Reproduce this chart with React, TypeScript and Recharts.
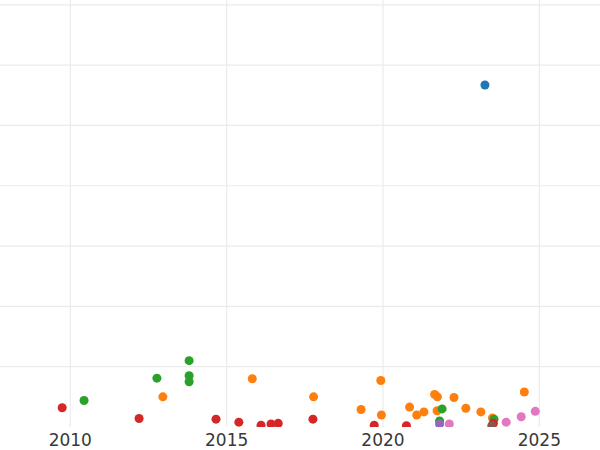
import React from "react";
import { ScatterChart, Scatter, XAxis, YAxis, ZAxis, ReferenceLine } from "recharts";

const xTicks = [2010, 2015, 2020, 2025];
const yTicks = [1, 2, 3, 4, 5, 6, 7];

const blueYears = [2023.26];
const blueValues = [5.67];

const orangeYears = [2012.96, 2015.82, 2017.78, 2019.3, 2019.93, 2019.95, 2020.85, 2021.08, 2021.31, 2021.65, 2021.74, 2021.73, 2022.27, 2022.65, 2023.13, 2023.5, 2024.52];
const orangeValues = [0.5, 0.8, 0.5, 0.29, 0.77, 0.2, 0.33, 0.2, 0.25, 0.54, 0.5, 0.27, 0.49, 0.31, 0.25, 0.15, 0.58];

const greenYears = [2010.44, 2012.77, 2013.8, 2013.8, 2013.8, 2021.89, 2021.81, 2023.55];
const greenValues = [0.44, 0.81, 1.1, 0.85, 0.75, 0.3, 0.1, 0.13];

const redYears = [2009.74, 2012.2, 2014.66, 2015.39, 2016.1, 2016.42, 2016.65, 2017.76, 2019.72, 2020.75, 2023.53];
const redValues = [0.32, 0.14, 0.13, 0.08, 0.03, 0.05, 0.06, 0.13, 0.03, 0.02, 0.06];

const purpleYears = [2021.81];
const purpleValues = [0.05];

const brownYears = [2023.48];
const brownValues = [0.02];

const pinkYears = [2022.12, 2023.94, 2024.42, 2024.87];
const pinkValues = [0.05, 0.08, 0.17, 0.26];

const toPoints = (years: number[], values: number[]) =>
  years.map((year, i) => ({ year, value: values[i] }));

const series = [
  { name: "blue", color: "#1f77b4", data: toPoints(blueYears, blueValues) },
  { name: "orange", color: "#ff7f0e", data: toPoints(orangeYears, orangeValues) },
  { name: "green", color: "#2ca02c", data: toPoints(greenYears, greenValues) },
  { name: "red", color: "#d62728", data: toPoints(redYears, redValues) },
  { name: "purple", color: "#9467bd", data: toPoints(purpleYears, purpleValues) },
  { name: "brown", color: "#8c564b", data: toPoints(brownYears, brownValues) },
  { name: "pink", color: "#e377c2", data: toPoints(pinkYears, pinkValues) },
];

export default function App() {
  return (
    <div style={{ width: 600, height: 450, background: "#fff" }}>
      <style>{"body{margin:0}"}</style>
      <ScatterChart width={600} height={450} margin={{ top: 0, right: 0, bottom: 0, left: 0 }}>
        {/* grid drawn as reference lines so no frame around the plot */}
        {yTicks.map(t => (
          <ReferenceLine key={"y" + t} y={t} stroke="#ebebeb" strokeWidth={1.2} />
        ))}
        {xTicks.map(t => (
          <ReferenceLine key={"x" + t} x={t} stroke="#ebebeb" strokeWidth={1.2} />
        ))}
        <XAxis
          type="number"
          dataKey="year"
          domain={[2007.752, 2026.94]}
          ticks={xTicks}
          allowDataOverflow
          axisLine={false}
          tickLine={false}
          tickSize={0}
          tickMargin={7}
          height={23}
          tick={{ fill: "#383838", fontSize: 17, fontFamily: "DejaVu Sans" }}
        />
        <YAxis
          type="number"
          dataKey="value"
          domain={[0, 7.08]}
          ticks={yTicks}
          allowDataOverflow
          hide
        />
        <ZAxis range={[64, 64]} />
        {series.map(s => (
          <Scatter
            key={s.name}
            name={s.name}
            data={s.data}
            fill={s.color}
            isAnimationActive={false}
          />
        ))}
      </ScatterChart>
    </div>
  );
}
